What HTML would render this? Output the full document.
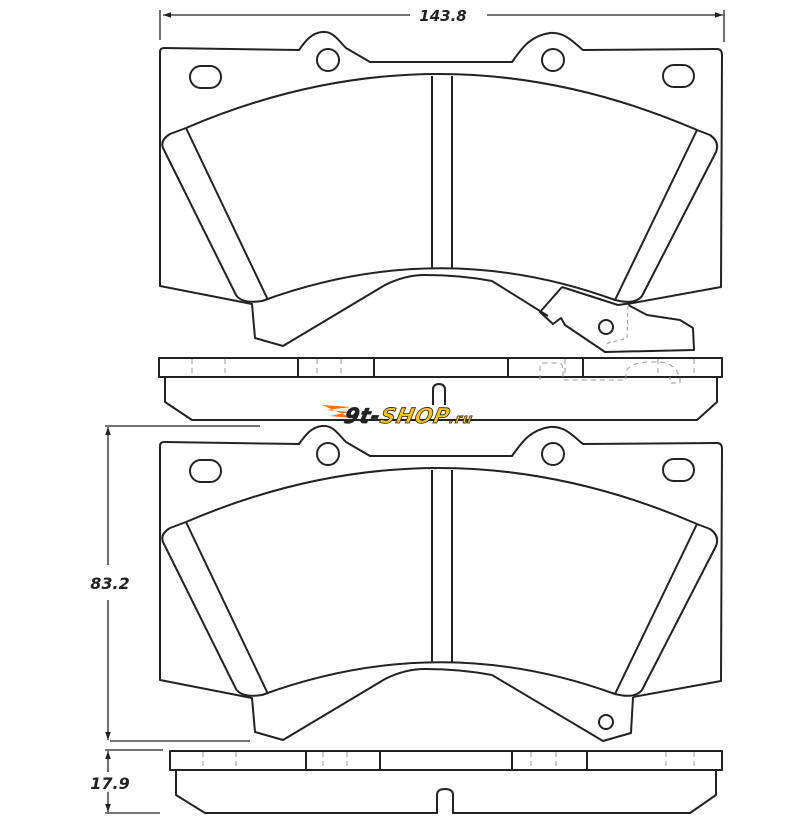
<!DOCTYPE html>
<html><head><meta charset="utf-8"><style>
html,body{margin:0;padding:0;background:#fff;}
svg{display:block;}
text{font-family:"DejaVu Sans","Liberation Sans",sans-serif;font-weight:bold;font-style:italic;fill:#222;}
</style></head><body>
<svg width="800" height="830" viewBox="0 0 800 830" xmlns="http://www.w3.org/2000/svg">
<defs>
<marker id="ar" viewBox="0 0 10 10" refX="10" refY="5" markerWidth="8" markerHeight="8" orient="auto-start-reverse" markerUnits="userSpaceOnUse"><path d="M0,1.5 L10,5 L0,8.5 Z" fill="#222"/></marker>
<g id="pad" fill="none" stroke="#222" stroke-width="2" stroke-linejoin="round">
 <path d="M160,52 Q160,48 164,48 L299,50 C306,40 312,33 322,32 C333,31 338,40 346,48 L370,62 L512,62 C522,48 530,36 550,33 C565,32 573,42 583,50 L717,49 Q722,49 722,55 L721,287 L633,303"/>
 <path d="M160,52 L160,286 L252,304 L255,338 L283,346 L385,285 Q405,275 425,275 Q460,275 492,281"/>
 <circle cx="328" cy="60" r="11"/>
 <circle cx="553" cy="60" r="11"/>
 <rect x="190" y="66" width="31" height="22" rx="11"/>
 <rect x="663" y="65" width="31" height="22" rx="11"/>
 <path d="M186,128 Q440,19 697,130"/>
 <path d="M186,128 L170,134 Q160,140 163,148 L236,295 Q242,304 262,301 Q440,236 615,300 Q635,305 642,296 L716,152 Q720,142 710,135 L697,130"/>
 <line x1="186" y1="128" x2="268" y2="300"/>
 <line x1="697" y1="130" x2="615" y2="300"/>
 <path d="M432,268 V76 M452,268 V76"/>
</g>
</defs>

<!-- top dimension -->
<g stroke="#222" stroke-width="1.3" fill="none">
 <line x1="160" y1="10" x2="160" y2="40"/>
 <line x1="724" y1="10" x2="724" y2="42"/>
 <line x1="163" y1="15" x2="410" y2="15" marker-start="url(#ar)"/>
 <line x1="487" y1="15" x2="723" y2="15" marker-end="url(#ar)"/>
</g>
<text x="443" y="21" font-size="15" text-anchor="middle">143.8</text>

<!-- top pad -->
<use href="#pad"/>
<g fill="none" stroke="#222" stroke-width="2" stroke-linejoin="round">
 <path d="M492,281 L548,316"/>
 <path d="M562,287 L540,312 L553,324 L561,318 L565,325 L605,352 L694,350 L693,328 L680,320 L647,315 L630,306 L628,303"/>
 <path d="M562,287 L618,305 Q625,304 633,303"/>
 <circle cx="606" cy="327" r="7"/>
 <path d="M628,306 L627,338 L605,344" stroke="#999" stroke-width="1" stroke-dasharray="4,3"/>
 <rect x="159" y="358" width="563" height="19"/>
 <path d="M298,358 V377 M374,358 V377 M508,358 V377 M583,358 V377"/>
 <path d="M165,377 V402 L192,420 L697,420 L717,402 V377"/>
 <path d="M433,405 V390 Q433,384 439,384 Q445,384 445,390 V405"/>
</g>
<g stroke="#999" stroke-width="1" stroke-dasharray="5,4" fill="none">
 <path d="M192,359 V376 M225,359 V376 M317,359 V376 M341,359 V376 M565,359 V376 M694,359 V376 M658,359 V376"/>
 <path d="M540,380 V366 Q540,363 545,363 L558,363 Q563,363 563,370 V380 L626,380 V372 Q630,362 650,362 L660,362 Q675,363 680,378 V383 L670,383 V377"/>
</g>

<!-- logo -->
<g>
 <path d="M322,405 L352,407 L326,410 L350,412 L330,416 L352,418 Z" fill="#f07010"/>
 <text x="345" y="423" font-size="21" font-family="Liberation Sans,sans-serif" style="font-weight:900" fill="#f07010" stroke="#222" stroke-width="0.8" transform="skewX(-12) translate(88,0)" textLength="128">9t-<tspan fill="#ffc20e">SHOP</tspan><tspan font-size="13" fill="#ffc20e">.ru</tspan></text>
</g>

<!-- bottom pad -->
<use href="#pad" transform="translate(0,394)"/>
<g fill="none" stroke="#222" stroke-width="2" stroke-linejoin="round">
 <path d="M492,675 L603,741 L631,733 L633,697"/>
 <circle cx="606" cy="722" r="7"/>
 <rect x="170" y="751" width="552" height="19"/>
 <path d="M306,751 V770 M380,751 V770 M512,751 V770 M587,751 V770"/>
 <path d="M176,770 V795 L205,813 L437,813 V795 Q437,789 445,789 Q453,789 453,795 V813 L690,813 L716,795 V770"/>
</g>
<g stroke="#999" stroke-width="1" stroke-dasharray="5,4" fill="none">
 <path d="M203,752 V769 M236,752 V769 M323,752 V769 M347,752 V769 M531,752 V769 M556,752 V769 M666,752 V769 M694,752 V769"/>
</g>

<!-- dimensions -->
<g stroke="#222" stroke-width="1.3" fill="none">
 <line x1="105" y1="426" x2="260" y2="426"/>
 <line x1="110" y1="741" x2="250" y2="741"/>
 <line x1="108" y1="427" x2="108" y2="565" marker-start="url(#ar)"/>
 <line x1="108" y1="600" x2="108" y2="740" marker-end="url(#ar)"/>
 <line x1="105" y1="750" x2="163" y2="750"/>
 <line x1="105" y1="813" x2="160" y2="813"/>
 <line x1="108" y1="751" x2="108" y2="772" marker-start="url(#ar)"/>
 <line x1="108" y1="792" x2="108" y2="812" marker-end="url(#ar)"/>
</g>
<text x="110" y="589" font-size="16" text-anchor="middle">83.2</text>
<text x="110" y="789" font-size="16" text-anchor="middle">17.9</text>
</svg>
</body></html>
